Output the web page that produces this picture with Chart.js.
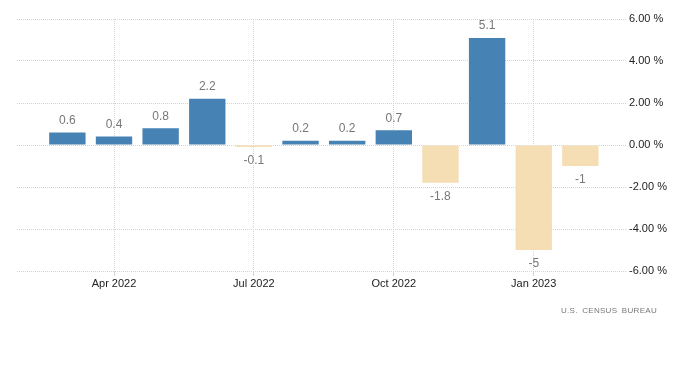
<!DOCTYPE html>
<html>
<head>
<meta charset="utf-8">
<script src="https://cdn.jsdelivr.net/npm/chart.js@4/dist/chart.umd.min.js"></script>
<style>
  body { margin: 0; background: #fff; }
  #wrap { position: relative; width: 700px; height: 365px; }
  #quelle {
    position: absolute; right: 43px; top: 306px;
    font: 8px 'Liberation Sans', Arial, sans-serif; color: #777;
    letter-spacing: 0.3px; word-spacing: 2px;
  }
</style>
</head>
<body>
<div id="wrap">
  <canvas id="chart" width="700" height="365"></canvas>
  <div id="quelle">U.S. CENSUS BUREAU</div>
</div>
<script>
const monate = ['Mar 2022', 'Apr 2022', 'May 2022', 'Jun 2022', 'Jul 2022', 'Aug 2022',
  'Sep 2022', 'Oct 2022', 'Nov 2022', 'Dec 2022', 'Jan 2023', 'Feb 2023'];
const werte = [0.6, 0.4, 0.8, 2.2, -0.1, 0.2, 0.2, 0.7, -1.8, 5.1, -5, -1];
const tickMonate = ['Apr 2022', 'Jul 2022', 'Oct 2022', 'Jan 2023'];
const yTicks = [-6, -4, -2, 0, 2, 4, 6];

const punkte = werte.map((v, i) => ({ x: i, y: v }));

// Werte über/unter die Balken schreiben
const wertLabels = {
  id: 'wertLabels',
  afterDatasetsDraw(chart) {
    const ctx = chart.ctx;
    const meta = chart.getDatasetMeta(0);
    ctx.save();
    ctx.font = '12px "Liberation Sans", Arial, sans-serif';
    ctx.fillStyle = '#777';
    ctx.textAlign = 'center';
    ctx.textBaseline = 'middle';
    meta.data.forEach((bar, i) => {
      const v = werte[i];
      const y = v >= 0 ? bar.y - 12 : bar.y + 14;
      ctx.fillText(String(v), bar.x, y);
    });
    ctx.restore();
  }
};

new Chart(document.getElementById('chart'), {
  type: 'bar',
  data: {
    datasets: [{
      data: punkte,
      backgroundColor: werte.map(v => v >= 0 ? '#4682b4' : '#f5deb3'),
      borderWidth: 0,
      barPercentage: 0.78,
      categoryPercentage: 1
    }]
  },
  options: {
    responsive: false,
    animation: false,
    layout: { padding: { left: 17, right: 20, top: 19, bottom: 74 } },
    plugins: { legend: { display: false }, tooltip: { enabled: false } },
    scales: {
      x: {
        type: 'linear',
        offset: false,
        min: -1.08,
        max: 12,
        afterBuildTicks: s => { s.ticks = tickMonate.map(m => ({ value: monate.indexOf(m) })); },
        afterFit: s => { s.height = 20; },
        ticks: {
          callback: v => monate[v],
          color: '#222',
          padding: 1,
          maxRotation: 0,
          font: { family: '"Liberation Sans", Arial, sans-serif', size: 11 }
        },
        grid: { offset: false, color: '#d4d4d4', tickLength: 5, drawTicks: true },
        border: { display: false, dash: [1, 1] }
      },
      y: {
        position: 'right',
        min: -6,
        max: 6,
        afterBuildTicks: s => { s.ticks = yTicks.map(v => ({ value: v })); },
        afterFit: s => { s.width = 53; },
        ticks: {
          callback: v => v.toFixed(2) + ' %',
          color: '#222',
          padding: 2,
          font: { family: '"Liberation Sans", Arial, sans-serif', size: 11 }
        },
        grid: { color: '#d4d4d4', drawTicks: false },
        border: { display: false, dash: [1, 1] }
      }
    }
  },
  plugins: [wertLabels]
});
</script>
</body>
</html>
